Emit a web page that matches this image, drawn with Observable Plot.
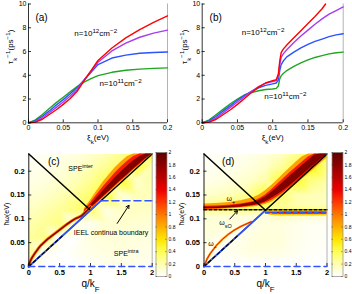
<!DOCTYPE html>
<html><head><meta charset="utf-8">
<script src="https://cdn.jsdelivr.net/npm/d3@7"></script>
<script src="https://cdn.jsdelivr.net/npm/@observablehq/plot@0.6"></script>
<style>
body{margin:0;background:#fff;}
#fig{position:relative;width:352px;height:294px;overflow:hidden;background:#fff;}
#fig svg{position:absolute;overflow:visible;}
</style></head><body><div id="fig"></div>
<script>
// ---------- panel (a) ----------
const xiA = [0,0.01,0.02,0.03,0.04,0.05,0.06,0.07,0.08,0.09,0.10,0.12,0.14,0.16,0.18,0.20];
const aGreen  = [0,0.25,0.7,1.2,1.7,2.15,2.6,3.05,3.42,3.72,3.97,4.25,4.42,4.52,4.58,4.62];
const aBlue   = [0,0.18,0.55,1.0,1.5,1.95,2.45,2.98,3.6,4.25,4.9,5.45,5.7,5.85,5.92,5.96];
const aPurple = [0,0.1,0.42,0.85,1.3,1.75,2.25,2.8,3.6,4.35,5.1,6.05,6.7,7.2,7.55,7.8];
const aRed    = [0,0.06,0.3,0.7,1.1,1.55,2.05,2.65,3.55,4.4,5.25,6.3,7.15,7.85,8.45,9.0];
// ---------- panel (b) ----------
const xiB = [0,0.01,0.02,0.03,0.04,0.05,0.06,0.07,0.08,0.09,0.1,0.105,0.108,0.11,0.112,0.115,0.12,0.13,0.14,0.15,0.16,0.17,0.18,0.19,0.2];
const bGreen  = [0,0.25,0.7,1.15,1.6,2.0,2.35,2.55,2.7,2.8,2.85,2.9,3.1,3.7,3.95,4.15,4.4,4.75,5.05,5.3,5.5,5.65,5.8,5.9,5.95];
const bBlue   = [0,0.18,0.55,1.0,1.45,1.9,2.3,2.65,2.95,3.15,3.28,3.35,3.6,4.4,4.9,5.2,5.55,5.95,6.3,6.6,6.85,7.05,7.25,7.4,7.5];
const bPurple = [0,0.1,0.42,0.85,1.3,1.75,2.2,2.65,3.05,3.35,3.48,3.55,3.9,4.9,5.5,5.8,6.15,6.75,7.3,7.8,8.3,8.75,9.15,9.45,9.75];
const xiBRed = [0,0.01,0.02,0.03,0.04,0.05,0.06,0.07,0.08,0.09,0.1,0.105,0.108,0.11,0.112,0.115,0.12,0.13,0.14,0.15,0.16,0.17,0.175];
const bRed    = [0,0.06,0.3,0.7,1.1,1.55,2.05,2.55,3.0,3.35,3.55,3.62,4.1,5.2,5.9,6.2,6.55,7.15,7.75,8.35,8.95,9.6,10.0];
const tauTicksX = [0,0.05,0.1,0.15,0.2];
const tauTicksY = [0,2,4,6,8,10];

// ---------- panels (c),(d) ----------
const qTicks = [0,0.5,1,1.5,2];
const wTicks = [0,0.05,0.1,0.15,0.2];
const cbTicks = [0,0.2,0.4,0.6,0.8,1,1.2,1.4,1.6,1.8,2];
const cbDomain = [0,0.2,0.4,0.6,0.8,1.0,1.2,1.4,1.6,1.8,2.0];
const cbRange = ["#ffffff","#ffffb0","#ffff55","#ffe600","#ffb000","#ff7800","#ff3800","#ee0000","#bb0000","#8c0000","#5e0000"];
const gridQ = [0,0.25,0.5,0.75,1,1.25,1.5,1.75,2];
const gridWC = [0,0.03,0.06,0.09,0.12,0.15,0.18,0.21,0.236];
const glowC = [
 [0,0,0,0,0.02,0.04,0.05,0.05,0.04],
 [0.25,0.03,0,0.03,0.06,0.08,0.08,0.07,0.06],
 [0.25,0.28,0.03,0,0.08,0.10,0.10,0.09,0.08],
 [0.20,0.25,0.30,0.05,0.03,0.12,0.12,0.11,0.10],
 [0.15,0.20,0.25,0.32,0.35,0.08,0.15,0.15,0.14],
 [0.10,0.13,0.18,0.25,0.35,0.45,0.10,0.18,0.18],
 [0.06,0.08,0.12,0.18,0.26,0.38,0.50,0.14,0.22],
 [0.04,0.05,0.08,0.12,0.18,0.26,0.36,0.50,0.20],
 [0.02,0.03,0.05,0.08,0.12,0.18,0.26,0.38,0.55]];
const gridWD = [0,0.03,0.06,0.09,0.105,0.118,0.13,0.15,0.18,0.21,0.236];
const glowD = [
 [0,0,0,0,0,0,0,0,0],
 [0.06,0.03,0.05,0.08,0.08,0.07,0.04,0.02,0.01],
 [0.08,0.06,0.03,0.08,0.10,0.09,0.05,0.03,0.02],
 [0.10,0.10,0.08,0.04,0.08,0.08,0.05,0.03,0.02],
 [0.10,0.10,0.10,0.08,0.06,0.15,0.12,0.10,0.10],
 [0.30,0.30,0.30,0.30,0.25,0.30,0.30,0.30,0.30],
 [0.25,0.28,0.32,0.35,0.40,0.25,0.20,0.18,0.16],
 [0.12,0.15,0.20,0.28,0.45,0.35,0.20,0.18,0.16],
 [0.05,0.07,0.10,0.14,0.22,0.45,0.50,0.30,0.22],
 [0.03,0.04,0.05,0.08,0.13,0.24,0.40,0.55,0.30],
 [0.02,0.02,0.03,0.05,0.08,0.14,0.25,0.40,0.50]];
// (c) plasmon ridge and band
const ridgeCq = [0,0.02,0.05,0.1,0.15,0.2,0.3,0.4,0.5,0.6,0.7,0.75,0.8,0.85,0.9,0.95,1.0];
const ridgeCw = [0,0.01,0.018,0.028,0.037,0.045,0.057,0.067,0.077,0.087,0.096,0.1,0.103,0.106,0.112,0.118,0.125];
const bandCq      = [0.9,1.0,1.1,1.2,1.3,1.4,1.5,1.6,1.7,1.8,1.9,2.0];
const bandCoutLo  = [0.107,0.119,0.131,0.143,0.154,0.166,0.178,0.190,0.202,0.213,0.225,0.236];
const bandCoutHi  = [0.121,0.139,0.158,0.176,0.192,0.207,0.220,0.231,0.236,0.236,0.236,0.236];
const bandCmidLo  = [0.108,0.120,0.132,0.144,0.156,0.168,0.180,0.191,0.203,0.214,0.225,0.236];
const bandCmidHi  = [0.118,0.133,0.150,0.166,0.181,0.196,0.209,0.221,0.231,0.236,0.236,0.236];
const bandCcoreLo = [0.110,0.122,0.134,0.146,0.158,0.170,0.182,0.193,0.205,0.216,0.227,0.236];
const bandCcoreHi = [0.115,0.128,0.143,0.158,0.172,0.186,0.199,0.211,0.222,0.231,0.236,0.236];
// (d) omega+ band
const wpQ      = [0,0.2,0.4,0.6,0.8,0.9,1.0,1.1,1.2,1.3,1.4,1.5,1.6,1.7,1.8,1.9,2.0];
const wpOutLo  = [0.1195,0.1195,0.1205,0.1225,0.125,0.127,0.130,0.135,0.143,0.151,0.161,0.172,0.183,0.194,0.205,0.216,0.227];
const wpOutHi  = [0.131,0.132,0.134,0.138,0.144,0.150,0.159,0.170,0.182,0.195,0.207,0.219,0.230,0.236,0.236,0.236,0.236];
const wpMidLo  = [0.120,0.1205,0.122,0.124,0.127,0.129,0.133,0.139,0.147,0.156,0.166,0.177,0.188,0.199,0.210,0.221,0.232];
const wpMidHi  = [0.1265,0.127,0.1285,0.131,0.136,0.142,0.150,0.161,0.173,0.185,0.197,0.208,0.219,0.230,0.236,0.236,0.236];
const wpCoreLo = [0.121,0.1215,0.123,0.125,0.1285,0.131,0.136,0.143,0.151,0.160,0.170,0.181,0.192,0.203,0.214,0.225,0.236];
const wpCoreHi = [0.1245,0.125,0.1265,0.1295,0.134,0.139,0.146,0.156,0.167,0.178,0.190,0.201,0.212,0.223,0.234,0.236,0.236];
// (d) lower branch below omega_sO
const lbQ      = [1.0,1.1,1.2,1.3,1.5,1.75,2.0];
const lbOutLo  = [0.110,0.107,0.106,0.106,0.106,0.106,0.106];
const lbOutHi  = [0.117,0.117,0.117,0.117,0.117,0.117,0.117];
const lbMidLo  = [0.112,0.110,0.109,0.109,0.109,0.109,0.109];
const lbMidHi  = [0.115,0.115,0.115,0.115,0.115,0.115,0.115];
const lbCoreLo = [0.1125,0.112,0.111,0.1105,0.1105,0.1105,0.1105];
const lbCoreHi = [0.113,0.1135,0.1135,0.114,0.114,0.114,0.114];
// (d) omega- branch
const wmQ = [0,0.05,0.1,0.2,0.3,0.4,0.5,0.6,0.7,0.77];
const wmW = [0,0.016,0.027,0.044,0.057,0.068,0.077,0.084,0.09,0.094];
// boundary lines
const wTop = 0.236;
const slopeLineQ = [0,2];           const slopeLineW = [0,0.236];
const descLineQ = [0,1];            const descLineW = [0.236,0.118];
const blueCq = [0,1.17];            const blueCw = [0,0.138];
const blueCdashQ = [1.17,2];        const blueCdashW = [0.138,0.138];
const blueDq = [0,0.98];            const blueDw = [0,0.1155];
const sODashQ = [0,2];              const sODashW = [0.119,0.119];
const blueDdashQ = [1.0,2];         const blueDdashW = [0.1125,0.1125];
const zeroQ = [0,2];                const zeroW = [0,0];
const overDashQ = [0,0.55];         const overDashW = [0,0.0649];

const FONT = '"Liberation Sans", Arial, Helvetica, sans-serif';
const fig = document.getElementById("fig");
const pts = (xs, ys) => xs.map((x, i) => ({x, y: ys[i]}));
const band = (xs, lo, hi) => xs.map((x, i) => ({x, lo: lo[i], hi: hi[i]}));
const grid = (W, M) => W.flatMap((w, i) => gridQ.map((q, j) => ({q, w, v: M[i][j]})));

function rich(svg) {
  svg.querySelectorAll("text").forEach(el => {
    const s = el.textContent;
    if (!/[\^_]\{/.test(s)) return;
    while (el.firstChild) el.removeChild(el.firstChild);
    const re = /([\^_])\{([^}]*)\}|([^\^_]+)/g; let m;
    while ((m = re.exec(s))) {
      const ts = document.createElementNS("http://www.w3.org/2000/svg", "tspan");
      if (m[3] !== undefined) ts.textContent = m[3];
      else {
        ts.textContent = m[2];
        ts.setAttribute("font-size", "78%");
        ts.setAttribute("baseline-shift", m[1] === "^" ? "super" : "sub");
      }
      el.appendChild(ts);
    }
  });
}
function place(svg, left, top) {
  svg.style.left = left + "px"; svg.style.top = top + "px";
  rich(svg); fig.appendChild(svg);
}
const baseStyle = {fontFamily: FONT, fontSize: "7px", background: "transparent", overflow: "visible"};

function tauPanel(ml, mr, series, labels) {
  const W = 176, H = 147, mt = 3.5, mb = 24.7;
  const pw = W - ml - mr, ph = H - mt - mb;
  return Plot.plot({
    width: W, height: H, marginLeft: ml, marginRight: mr, marginTop: mt, marginBottom: mb,
    x: {domain: [0, 0.2]}, y: {domain: [0, 10]},
    style: baseStyle,
    marks: [
      Plot.ruleX([0.2], {stroke: "#a0a0a0", strokeWidth: 0.8}),
      ...series.map(s => Plot.line(pts(s.xs, s.ys), {x: "x", y: "y", stroke: s.color, strokeWidth: 1.4})),
      Plot.ruleX([0], {stroke: "#000", strokeWidth: 0.8}),
      Plot.ruleY([0], {stroke: "#000", strokeWidth: 0.8}),
      Plot.tickX(tauTicksX, {x: d => d, insetTop: ph - 3, stroke: "#000", strokeWidth: 0.8}),
      Plot.tickY(tauTicksY, {y: d => d, insetRight: pw - 3, stroke: "#000", strokeWidth: 0.8}),
      Plot.axisX(tauTicksX, {tickSize: 0, tickPadding: 2.5, label: null, tickFormat: d => String(d), fontSize: 7}),
      Plot.axisY(tauTicksY, {tickSize: 0, tickPadding: 2, label: null, tickFormat: d => String(d), fontSize: 7}),
      Plot.text([labels.panel], {x: "x", y: "y", text: "t", textAnchor: "start", fontSize: 10}),
      Plot.text(labels.n, {x: "x", y: "y", text: "t", textAnchor: "start", fontSize: 8}),
      Plot.text([{x: 0.1, y: 0, t: "ξ_{k}(eV)"}], {x: "x", y: "y", text: "t", dy: 14.5, fontSize: 8}),
      Plot.text([{x: 0, y: 6.4, t: "τ_{k}^{−1}(ps^{−1})"}], {x: "x", y: "y", text: "t", rotate: -90, dx: labels.ydx, fontSize: 8})
    ]
  });
}

const colorSpec = {type: "linear", domain: cbDomain, range: cbRange, clamp: true};
const L = (xs, ys, o) => Plot.line(pts(xs, ys), {x: "x", y: "y", ...o});
const A = (xs, lo, hi, v) => Plot.areaY(band(xs, lo, hi), {x: "x", y1: "lo", y2: "hi", fill: () => v});

function heatPanel(ml, mr, inner, texts, arrows, ydx) {
  const W = 176, H = 147, mt = 6.5, mb = 28;
  const pw = W - ml - mr, ph = H - mt - mb;
  return Plot.plot({
    width: W, height: H, marginLeft: ml, marginRight: mr, marginTop: mt, marginBottom: mb,
    x: {domain: [0, 2]}, y: {domain: [0, wTop]},
    color: colorSpec,
    style: baseStyle,
    marks: [
      ...inner,
      Plot.ruleX([2], {stroke: "#a0a0a0", strokeWidth: 0.8}),
      Plot.ruleX([0], {stroke: "#000", strokeWidth: 0.9}),
      Plot.tickX(qTicks, {x: d => d, insetTop: ph - 3, stroke: "#000", strokeWidth: 0.8}),
      Plot.tickY(wTicks, {y: d => d, insetRight: pw - 3, stroke: "#000", strokeWidth: 0.8}),
      L(zeroQ, zeroW, {stroke: "#3355ff", strokeWidth: 1.6, strokeDasharray: "6,4"}),
      Plot.axisX(qTicks, {tickSize: 0, tickPadding: 3, label: null, tickFormat: d => String(d), fontSize: 7.5, fontWeight: "bold"}),
      Plot.axisY(wTicks, {tickSize: 0, tickPadding: 4, label: null, tickFormat: d => String(d), fontSize: 7.5, fontWeight: "bold"}),
      Plot.text([{x: 1, y: 0, t: "q/k_{F}"}], {x: "x", y: "y", text: "t", dy: 17, fontSize: 10}),
      Plot.text([{x: 0, y: 0.11, t: "ħω(eV)"}], {x: "x", y: "y", text: "t", rotate: -90, dx: ydx, fontSize: 7}),
      ...texts.map(t => Plot.text([t], {x: "x", y: "y", text: "t", textAnchor: t.a || "start", fontSize: t.f})),
      ...arrows.map(a => Plot.arrow([a], {x1: "x1", y1: "y1", x2: "x2", y2: "y2", stroke: "#000", strokeWidth: 1, headLength: 5}))
    ]
  });
}

function colorbar() {
  const W = 24, H = 147, ml = 3.5, mr = 9.5, mt = 5, mb = 18;
  const pw = W - ml - mr;
  return Plot.plot({
    width: W, height: H, marginLeft: ml, marginRight: mr, marginTop: mt, marginBottom: mb,
    x: {domain: [0, 1], axis: null}, y: {domain: [0, 2]},
    color: colorSpec,
    style: {...baseStyle, fontSize: "5px"},
    marks: [
      Plot.raster({x1: 0, x2: 1, y1: 0, y2: 2, fill: (x, y) => y}),
      Plot.frame({stroke: "#888", strokeWidth: 0.7}),
      Plot.tickY(cbTicks, {y: d => d, insetRight: pw - 1.5, stroke: "#444", strokeWidth: 0.5}),
      Plot.tickY(cbTicks, {y: d => d, insetLeft: pw - 1.5, stroke: "#444", strokeWidth: 0.5}),
      Plot.axisY(cbTicks, {anchor: "right", tickSize: 0, tickPadding: 1.5, label: null, tickFormat: d => String(d), fontSize: 5})
    ]
  });
}

// ---- build (a)
place(tauPanel(28, 9, [
  {xs: xiA, ys: aGreen, color: "#1fa51f"},
  {xs: xiA, ys: aBlue, color: "#2a52ff"},
  {xs: xiA, ys: aPurple, color: "#a63cf0"},
  {xs: xiA, ys: aRed, color: "#ff0000"}],
  {panel: {x: 0.01, y: 8.85, t: "(a)"},
   n: [{x: 0.066, y: 7.5, t: "n=10^{12}cm^{−2}"}, {x: 0.102, y: 3.3, t: "n=10^{11}cm^{−2}"}],
   ydx: -18}), 0, 0);
// ---- build (b)
place(tauPanel(25.7, 9.3, [
  {xs: xiB, ys: bGreen, color: "#1fa51f"},
  {xs: xiB, ys: bBlue, color: "#2a52ff"},
  {xs: xiB, ys: bPurple, color: "#a63cf0"},
  {xs: xiBRed, ys: bRed, color: "#ff0000"}],
  {panel: {x: 0.0105, y: 8.85, t: "(b)"},
   n: [{x: 0.056, y: 7.6, t: "n=10^{12}cm^{−2}"}, {x: 0.088, y: 2.2, t: "n=10^{11}cm^{−2}"}],
   ydx: -17.7}), 176, 0);

// ---- build (c)
place(heatPanel(28.3, 24.3, [
  Plot.raster(grid(gridWC, glowC), {x: "q", y: "w", fill: "v", interpolate: "barycentric", x1: 0, x2: 2, y1: 0, y2: wTop}),
  A(bandCq, bandCoutLo, bandCoutHi, 0.85),
  A(bandCq, bandCmidLo, bandCmidHi, 1.3),
  A(bandCq, bandCcoreLo, bandCcoreHi, 1.85),
  L(ridgeCq, ridgeCw, {stroke: () => 0.9, strokeWidth: 3.2}),
  L(ridgeCq, ridgeCw, {stroke: () => 1.8, strokeWidth: 1.6}),
  L(descLineQ, descLineW, {stroke: "#000", strokeWidth: 1.5}),
  L(slopeLineQ, slopeLineW, {stroke: "#000", strokeWidth: 1.5}),
  L(blueCq, blueCw, {stroke: "#3355ff", strokeWidth: 1.7}),
  L(overDashQ, overDashW, {stroke: "#000", strokeWidth: 1.2, strokeDasharray: "3,3"}),
  L(blueCdashQ, blueCdashW, {stroke: "#3355ff", strokeWidth: 1.6, strokeDasharray: "7,4"})
], [
  {x: 0.405, y: 0.219, t: "(c)", f: 10, a: "middle"},
  {x: 0.64, y: 0.205, t: "SPE^{inter}", f: 7},
  {x: 0.73, y: 0.0705, t: "IEEL continua boundary", f: 7},
  {x: 1.378, y: 0.027, t: "SPE^{intra}", f: 7}
], [{x1: 1.433, y1: 0.0905, x2: 1.624, y2: 0.1284}], -22), 0, 147);
place(colorbar(), 152, 147);

// ---- build (d)
place(heatPanel(27.5, 25.5, [
  Plot.raster(grid(gridWD, glowD), {x: "q", y: "w", fill: "v", interpolate: "barycentric", x1: 0, x2: 2, y1: 0, y2: wTop}),
  A(wpQ, wpOutLo, wpOutHi, 0.85),
  A(wpQ, wpMidLo, wpMidHi, 1.3),
  A(wpQ, wpCoreLo, wpCoreHi, 1.85),
  A(lbQ, lbOutLo, lbOutHi, 0.7),
  A(lbQ, lbMidLo, lbMidHi, 1.1),
  A(lbQ, lbCoreLo, lbCoreHi, 1.5),
  L(wmQ, wmW, {stroke: () => 0.95, strokeWidth: 2}),
  L(wmQ, wmW, {stroke: () => 1.5, strokeWidth: 0.7}),
  L(descLineQ, descLineW, {stroke: "#000", strokeWidth: 1.5}),
  L(slopeLineQ, slopeLineW, {stroke: "#000", strokeWidth: 1.5}),
  L(blueDq, blueDw, {stroke: "#3355ff", strokeWidth: 1.7}),
  L(overDashQ, overDashW, {stroke: "#000", strokeWidth: 1.2, strokeDasharray: "3,3"}),
  L(sODashQ, sODashW, {stroke: "#000", strokeWidth: 1.6, strokeDasharray: "3,2"}),
  L(blueDdashQ, blueDdashW, {stroke: "#3355ff", strokeWidth: 1.6, strokeDasharray: "4,3"})
], [
  {x: 0.393, y: 0.219, t: "(d)", f: 10, a: "middle"},
  {x: 0.366, y: 0.142, t: "ω_{+}", f: 7},
  {x: 0.247, y: 0.0926, t: "ω_{sO}", f: 7},
  {x: 0.068, y: 0.0478, t: "ω_{−}", f: 7}
], [{x1: 0.42, y1: 0.0996, x2: 0.545, y2: 0.117}], -22.5), 176, 147);
place(colorbar(), 328, 147);
</script></body></html>
